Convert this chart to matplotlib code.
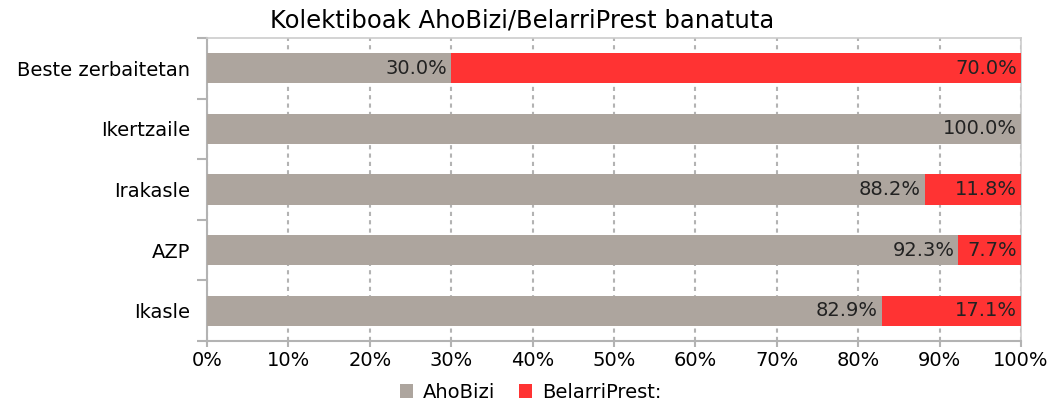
import matplotlib
matplotlib.use("Agg")
import matplotlib.pyplot as plt
import numpy as np

# data, top to bottom as in the picture
categories = ["Beste zerbaitetan", "Ikertzaile", "Irakasle", "AZP", "Ikasle"]
ahobizi = [30.0, 100.0, 88.2, 92.3, 82.9]
belarriprest = [70.0, 0.0, 11.8, 7.7, 17.1]
series_names = ["AhoBizi", "BelarriPrest:"]
colors = ["#ada59e", "#ff3333"]

plt.rcParams['font.family'] = ['DejaVu Sans']
FS = 14

fig = plt.figure(figsize=(10.55, 4.03), dpi=100)
ax = fig.add_axes([207/1055, 1-341/403, (1021-207)/1055, (341-38)/403])

y = np.arange(len(categories))[::-1]
ax.barh(y, ahobizi, height=0.5, color=colors[0], label=series_names[0], zorder=3)
ax.barh(y, belarriprest, left=ahobizi, height=0.5, color=colors[1], label=series_names[1], zorder=3)

# value labels at the right end of each segment
for yi, a, b in zip(y, ahobizi, belarriprest):
    if a > 0:
        ax.text(a - 0.5, yi, f"{a:.1f}%", ha='right', va='center', fontsize=FS, color='#222222', zorder=4)
    if b > 0:
        ax.text(a + b - 0.5, yi, f"{b:.1f}%", ha='right', va='center', fontsize=FS, color='#222222', zorder=4)

ax.set_xlim(0, 100)
ax.set_ylim(-0.5, len(categories) - 0.5)
ax.set_xticks(np.arange(0, 101, 10))
ax.set_xticklabels([f"{v}%" for v in range(0, 101, 10)], fontsize=FS)
ax.set_yticks(y)
ax.set_yticklabels(categories, fontsize=FS)
ax.tick_params(axis='y', length=0, pad=12)
ax.set_yticks(np.arange(-0.5, len(categories), 1), minor=True)
ax.tick_params(axis='y', which='minor', length=7.5, color='#b3b3b3', width=1.5)
ax.tick_params(axis='x', length=4.5, color='#b3b3b3', width=1.5, pad=3)

ax.grid(axis='x', color='#b3b3b3', linestyle=(0, (2, 2)), linewidth=1.5, zorder=0)
for s in ['top', 'right']:
    ax.spines[s].set_color('#cccccc')
    ax.spines[s].set_linewidth(1.2)
for s in ['left', 'bottom']:
    ax.spines[s].set_color('#b3b3b3')
    ax.spines[s].set_linewidth(1.5)

fig.suptitle("Kolektiboak AhoBizi/BelarriPrest banatuta", fontsize=17.5, x=0.495, y=1-20/403, va='center')

fig.legend(loc='center', bbox_to_anchor=(0.503, 1-392/403), ncol=2, frameon=False,
           fontsize=FS, handlelength=0.7, handleheight=0.7, columnspacing=1.2, handletextpad=0.5)

fig.savefig("out.png", dpi=100)
